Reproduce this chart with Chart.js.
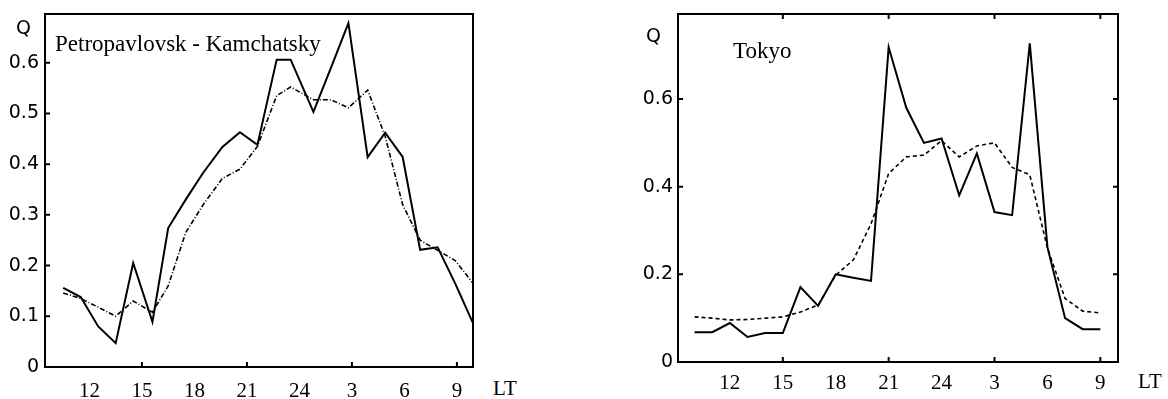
<!DOCTYPE html>
<html>
<head>
<meta charset="utf-8">
<script src="https://cdn.jsdelivr.net/npm/chart.js@4.4.1/dist/chart.umd.min.js"></script>
<style>
  body { margin: 0; background: #fff; width: 1168px; height: 399px; overflow: hidden; position: relative; }
  .box { position: absolute; top: 0; }
  .t { position: absolute; color: #000; white-space: nowrap; line-height: 1; }
  .serif { font-family: "Liberation Serif", "Times New Roman", serif; }
  .sans { font-family: "DejaVu Sans", sans-serif; font-size: 19px; }
</style>
</head>
<body>
<div class="box" style="left:0"><canvas id="kam" width="480" height="399"></canvas></div>
<div class="box" style="left:600px"><canvas id="tok" width="568" height="399"></canvas></div>

<div class="t sans" style="left:16px;top:18px">Q</div>
<div class="t serif" style="left:55px;top:32px;font-size:23px">Petropavlovsk - Kamchatsky</div>
<div class="t serif" style="left:493px;top:378px;font-size:21px">LT</div>

<div class="t sans" style="left:646px;top:26px">Q</div>
<div class="t serif" style="left:733px;top:39px;font-size:23px">Tokyo</div>
<div class="t serif" style="left:1138px;top:371px;font-size:21px">LT</div>

<script>
// local time in hours, past midnight continues as 25, 26 ... (shown as 1, 2 ...)
const kamHours = [10.5, 11.5, 12.5, 13.5, 14.5, 15.6, 16.5, 17.5, 18.5, 19.6, 20.6, 21.6, 22.7, 23.5, 24.8, 25.8, 26.8, 27.9, 28.9, 29.9, 30.9, 31.9, 32.9, 33.9];
const kamSolid = [0.156, 0.138, 0.08, 0.047, 0.205, 0.089, 0.274, 0.33, 0.383, 0.434, 0.463, 0.438, 0.606, 0.606, 0.503, 0.59, 0.678, 0.414, 0.462, 0.414, 0.231, 0.236, 0.165, 0.088];
const kamDash  = [0.146, 0.135, 0.118, 0.10, 0.13, 0.108, 0.16, 0.265, 0.32, 0.372, 0.39, 0.435, 0.535, 0.552, 0.527, 0.527, 0.511, 0.546, 0.455, 0.32, 0.25, 0.23, 0.21, 0.166];

const tokHours = [10, 11, 12, 13, 14, 15, 16, 17, 18, 19, 20, 21, 22, 23, 24, 25, 26, 27, 28, 29, 30, 31, 32, 33];
const tokSolid = [0.068, 0.068, 0.089, 0.057, 0.066, 0.066, 0.171, 0.128, 0.2, 0.192, 0.185, 0.718, 0.58, 0.50, 0.51, 0.38, 0.476, 0.342, 0.335, 0.727, 0.262, 0.10, 0.075, 0.075];
const tokDash  = [0.103, 0.10, 0.096, 0.097, 0.10, 0.103, 0.114, 0.13, 0.198, 0.233, 0.315, 0.43, 0.468, 0.472, 0.505, 0.468, 0.493, 0.5, 0.444, 0.427, 0.26, 0.145, 0.116, 0.112];

const xTickHours = [12, 15, 18, 21, 24, 27, 30, 33];
const xTickLabels = ['12', '15', '18', '21', '24', '3', '6', '9'];
const xMarkHours = [15, 21, 27, 33];

const kamYTicks = [0, 0.1, 0.2, 0.3, 0.4, 0.5, 0.6];
const kamYLabels = ['0', '0.1', '0.2', '0.3', '0.4', '0.5', '0.6'];
const tokYTicks = [0, 0.2, 0.4, 0.6];
const tokYLabels = ['0', '0.2', '0.4', '0.6'];

// box around the plot with short inward tick marks
const framePlugin = {
  id: 'frame',
  afterDatasetsDraw(chart, args, o) {
    const { ctx, chartArea: a, scales: { x, y } } = chart;
    ctx.save();
    ctx.strokeStyle = '#000';
    ctx.lineWidth = 2;
    ctx.strokeRect(a.left, a.top, a.right - a.left, a.bottom - a.top);
    ctx.beginPath();
    o.xMarks.forEach(v => {
      const px = x.getPixelForValue(v);
      ctx.moveTo(px, a.bottom); ctx.lineTo(px, a.bottom - 5);
      if (o.allSides) { ctx.moveTo(px, a.top); ctx.lineTo(px, a.top + 5); }
    });
    o.yMarks.forEach(v => {
      const py = y.getPixelForValue(v);
      ctx.moveTo(a.left, py); ctx.lineTo(a.left + 5, py);
      if (o.allSides) { ctx.moveTo(a.right, py); ctx.lineTo(a.right - 5, py); }
    });
    ctx.stroke();
    ctx.restore();
  }
};

function noPad(s) {
  s.paddingTop = 0; s.paddingBottom = 0; s.paddingLeft = 0; s.paddingRight = 0;
}

function makeChart(id, hours, solid, dash, cfg) {
  const pts = arr => arr.map((v, i) => ({ x: hours[i], y: v }));
  return new Chart(document.getElementById(id), {
    type: 'line',
    data: {
      datasets: [
        { data: pts(dash), borderColor: '#000', borderWidth: 1.6, borderDash: cfg.dash, pointRadius: 0, tension: 0 },
        { data: pts(solid), borderColor: '#000', borderWidth: 2, pointRadius: 0, tension: 0 }
      ]
    },
    plugins: [framePlugin],
    options: {
      responsive: false,
      animation: false,
      layout: { padding: { top: 14, right: cfg.padRight, left: 0, bottom: 0 } },
      plugins: {
        legend: { display: false },
        tooltip: { enabled: false },
        frame: { xMarks: xMarkHours, yMarks: cfg.yTicks.slice(1), allSides: cfg.allSides }
      },
      scales: {
        x: {
          type: 'linear', min: cfg.xMin, max: cfg.xMax,
          grid: { display: false, drawTicks: false }, border: { display: false },
          afterBuildTicks: s => { s.ticks = xTickHours.map(v => ({ value: v })); },
          afterFit: s => { s.height = cfg.xHeight; noPad(s); },
          ticks: {
            color: '#000', padding: cfg.xPad, maxRotation: 0, autoSkip: false,
            font: { family: '"Liberation Serif", serif', size: 21 },
            callback: v => xTickLabels[xTickHours.indexOf(v)]
          }
        },
        y: {
          min: 0, max: cfg.yMax,
          grid: { display: false, drawTicks: false }, border: { display: false },
          afterBuildTicks: s => { s.ticks = cfg.yTicks.map(v => ({ value: v })); },
          afterFit: s => { s.width = cfg.yWidth; noPad(s); },
          ticks: {
            color: '#000', padding: cfg.yPad, autoSkip: false,
            font: { family: '"DejaVu Sans", sans-serif', size: 19 },
            callback: v => cfg.yLabels[cfg.yTicks.indexOf(v)]
          }
        }
      }
    }
  });
}

makeChart('kam', kamHours, kamSolid, kamDash, {
  dash: [5, 2, 1, 2], xMin: 9.46, xMax: 33.92, yMax: 0.696,
  yTicks: kamYTicks, yLabels: kamYLabels, allSides: false,
  padRight: 7, xHeight: 32, yWidth: 45, xPad: 12, yPad: 6
});

makeChart('tok', tokHours, tokSolid, tokDash, {
  dash: [4, 3], xMin: 9.06, xMax: 34.0, yMax: 0.794,
  yTicks: tokYTicks, yLabels: tokYLabels, allSides: true,
  padRight: 50, xHeight: 37, yWidth: 78, xPad: 9, yPad: 5
});
</script>
</body>
</html>
